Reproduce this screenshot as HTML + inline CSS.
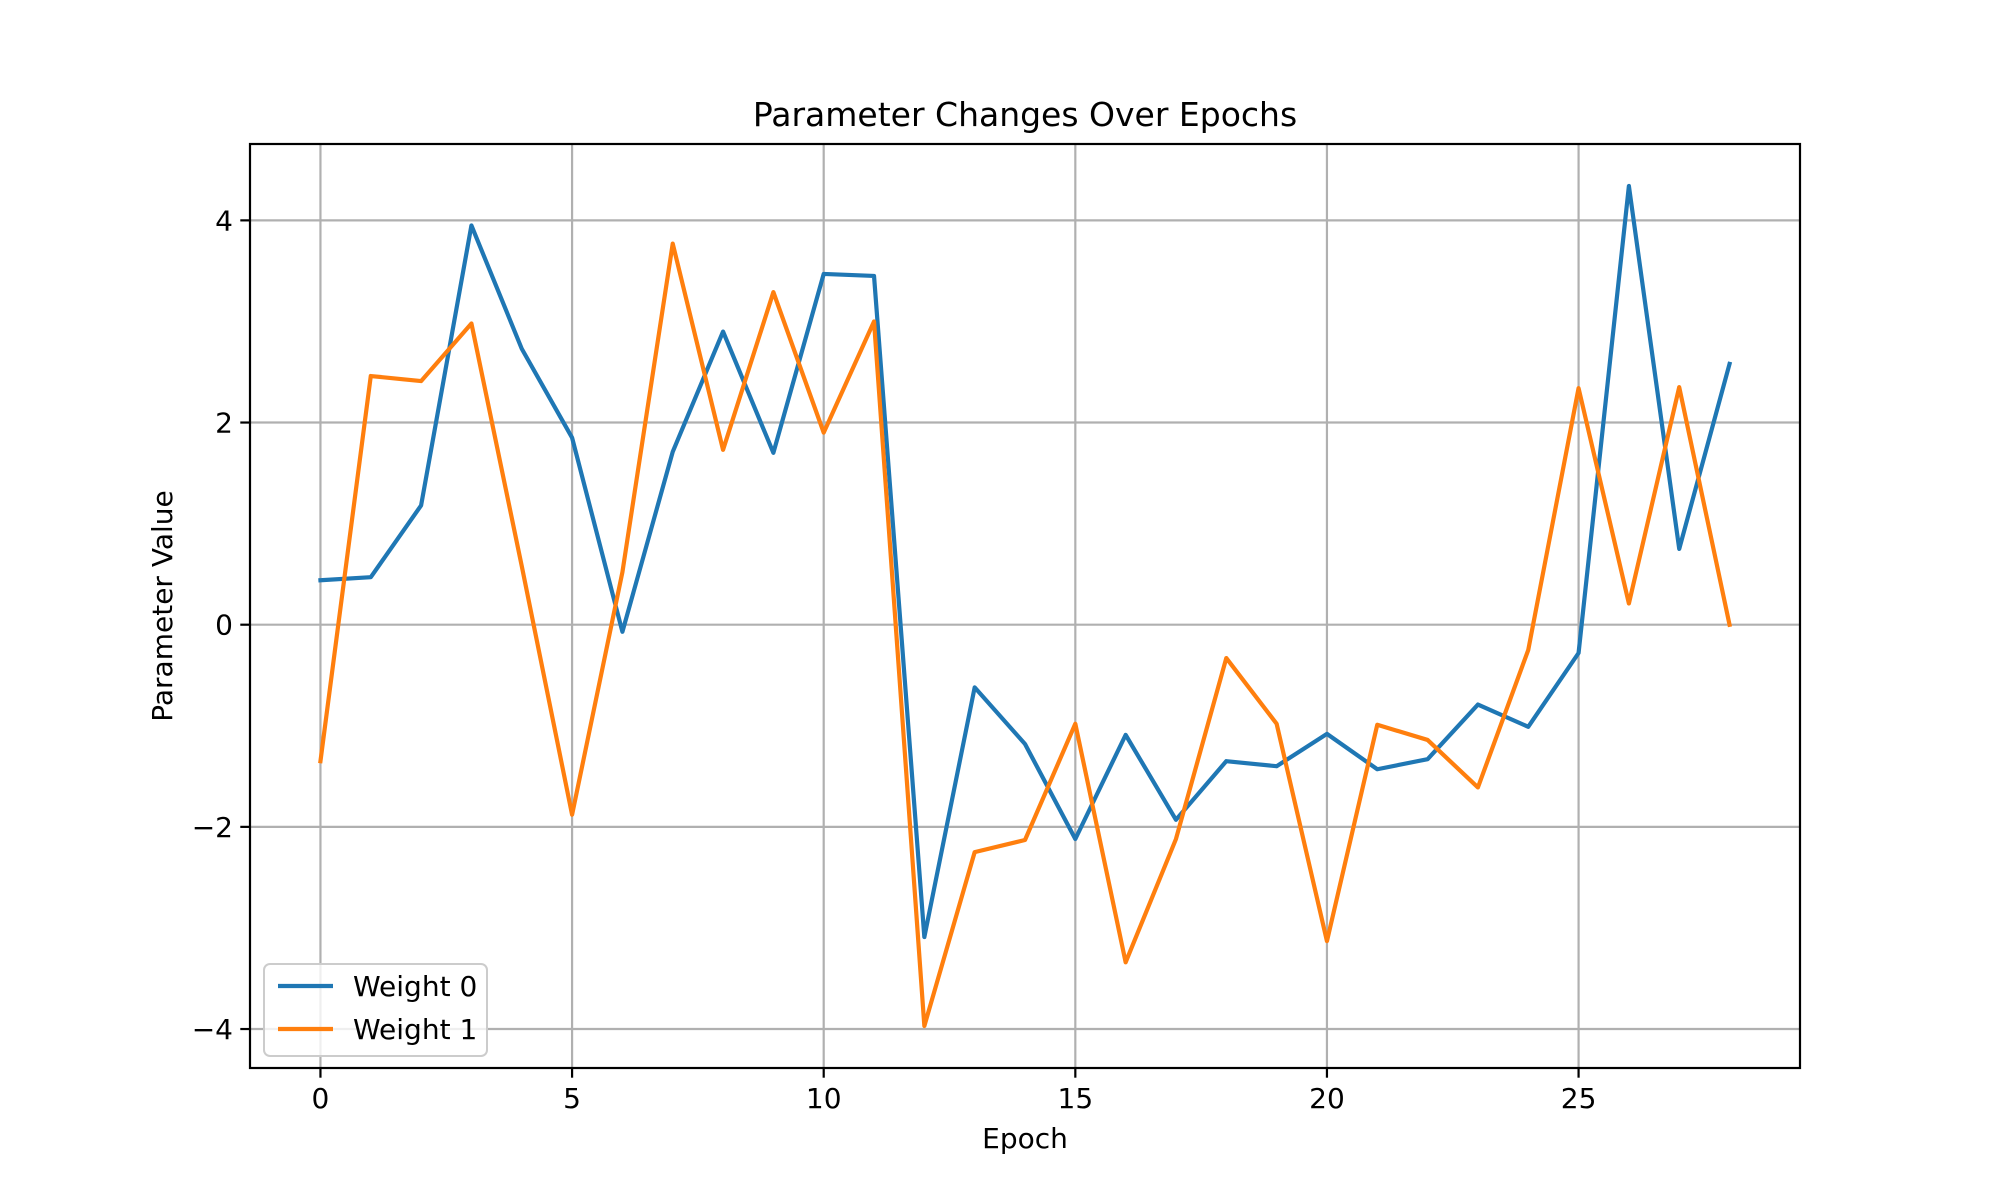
<!DOCTYPE html>
<html><head><meta charset="utf-8"><style>
html,body{margin:0;padding:0;background:#fff;}
svg{display:block;font-family:"DejaVu Sans","Liberation Sans",sans-serif;}
</style></head><body>
<svg id="chart" width="2000" height="1200" viewBox="0 0 2000 1200" xmlns="http://www.w3.org/2000/svg">
<rect width="2000" height="1200" fill="#fff"/>
<g id="grid"></g>
<g id="series"></g>
<rect x="250" y="144" width="1550" height="924" fill="none" stroke="#000" stroke-width="2.2"/>
<g id="ticks"></g>
<text x="1025" y="126" font-size="33" text-anchor="middle">Parameter Changes Over Epochs</text>
<text x="1025" y="1148" font-size="28" text-anchor="middle">Epoch</text>
<text x="0" y="0" font-size="28" text-anchor="middle" transform="translate(172,606) rotate(-90)">Parameter Value</text>
<g>
<rect x="264" y="964" width="223" height="92" rx="6" fill="#fff" fill-opacity="0.8" stroke="#ccc" stroke-width="2"/>
<line x1="278" y1="986" x2="333" y2="986" stroke="#1f77b4" stroke-width="4.2"/>
<text x="353" y="996" font-size="28">Weight 0</text>
<line x1="278" y1="1029" x2="333" y2="1029" stroke="#ff7f0e" stroke-width="4.2"/>
<text x="353" y="1039" font-size="28">Weight 1</text>
</g>
</svg>
<script>
const epochs = [0,1,2,3,4,5,6,7,8,9,10,11,12,13,14,15,16,17,18,19,20,21,22,23,24,25,26,27,28];
const weight0 = [0.44,0.47,1.18,3.95,2.73,1.85,-0.07,1.71,2.90,1.70,3.47,3.45,-3.09,-0.62,-1.18,-2.12,-1.09,-1.93,-1.35,-1.40,-1.08,-1.43,-1.33,-0.79,-1.01,-0.28,4.34,0.75,2.58];
const weight1 = [-1.35,2.46,2.41,2.98,0.58,-1.88,0.52,3.77,1.73,3.29,1.90,3.00,-3.97,-2.25,-2.13,-0.98,-3.34,-2.12,-0.33,-0.98,-3.13,-0.99,-1.14,-1.61,-0.25,2.34,0.21,2.35,0.0];
const xTicks = [0,5,10,15,20,25];
const yTicks = [-4,-2,0,2,4];
const yTickLabels = ["\u22124","\u22122","0","2","4"];

const NS = "http://www.w3.org/2000/svg";
const L=250,R=1800,T=144,B=1068;
const allY = weight0.concat(weight1);
const ymin=Math.min(...allY), ymax=Math.max(...allY), yr=ymax-ymin;
const xmin=Math.min(...epochs), xmax=Math.max(...epochs), xr=xmax-xmin;
const x0=xmin-0.05*xr, x1=xmax+0.05*xr, y0=ymin-0.05*yr, y1=ymax+0.05*yr;
function sx(v){return L+(v-x0)/(x1-x0)*(R-L);}
function sy(v){return B-(v-y0)/(y1-y0)*(B-T);}
function mk(tag,attrs,parent){const e=document.createElementNS(NS,tag);for(const k in attrs)e.setAttribute(k,attrs[k]);parent.appendChild(e);return e;}
const grid=document.getElementById('grid'), ticks=document.getElementById('ticks'), series=document.getElementById('series');
xTicks.forEach(t=>{
  const g=mk('line',{x1:sx(t),x2:sx(t),y1:T,y2:B,stroke:'#b0b0b0','stroke-width':2.2},grid);
  
  
  const tk=mk('line',{x1:sx(t),x2:sx(t),y1:B,y2:B+9.7,stroke:'#000','stroke-width':2.2},ticks);
  
  
  const tx=mk('text',{x:sx(t),y:B+40,'font-size':28,'text-anchor':'middle'},ticks);
  tx.textContent=String(t);
  
  
});
yTicks.forEach((t,i)=>{
  const g=mk('line',{x1:L,x2:R,y1:sy(t),y2:sy(t),stroke:'#b0b0b0','stroke-width':2.2},grid);
  
  
  const tk=mk('line',{x1:L-9.7,x2:L,y1:sy(t),y2:sy(t),stroke:'#000','stroke-width':2.2},ticks);
  
  
  const tx=mk('text',{x:L-17,y:sy(t)+10,'font-size':28,'text-anchor':'end'},ticks);
  tx.textContent=yTickLabels[i];
  
  
});
function line(vals,color,name){
  const p=mk('polyline',{points:vals.map((v,i)=>sx(epochs[i])+','+sy(v)).join(' '),fill:'none',stroke:color,'stroke-width':4.2,'stroke-linejoin':'round','stroke-linecap':'square'},series);
  
  
}
line(weight0,'#1f77b4','weight-0-line');
line(weight1,'#ff7f0e','weight-1-line');
</script>
</body></html>
